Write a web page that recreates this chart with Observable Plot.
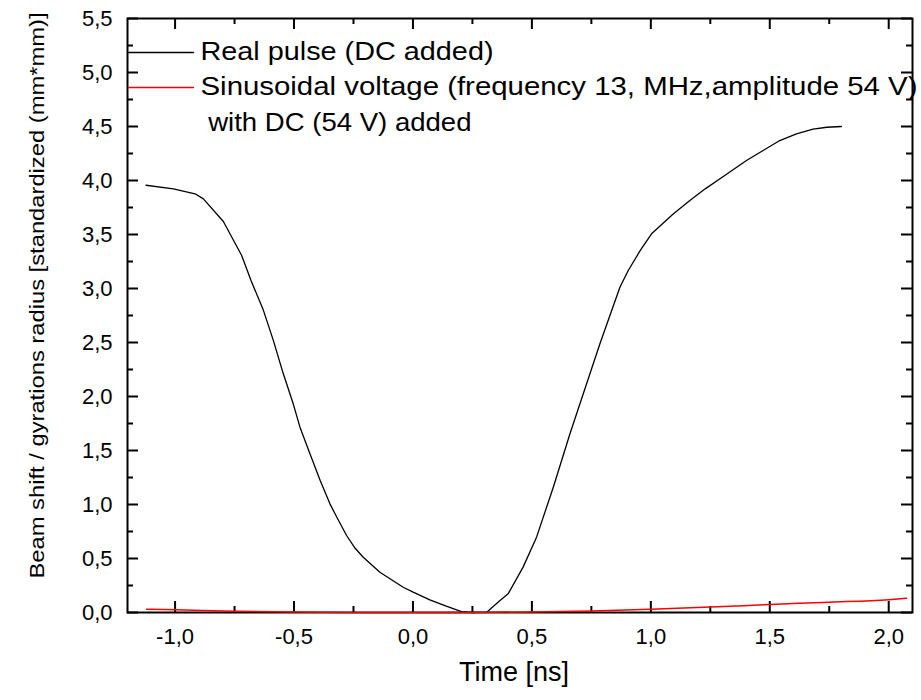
<!DOCTYPE html>
<html>
<head>
<meta charset="utf-8">
<script src="https://cdn.jsdelivr.net/npm/d3@7"></script>
<script src="https://cdn.jsdelivr.net/npm/@observablehq/plot@0.6"></script>
<style>
  html, body { margin: 0; padding: 0; background: #fff; }
</style>
</head>
<body>
<div id="chart"></div>
<script>
// ---- data ----
const pulseTime = [-1.122, -1.007, -0.916, -0.881, -0.797, -0.72, -0.68, -0.629, -0.587, -0.545, -0.503, -0.475, -0.433, -0.39, -0.349, -0.32, -0.279, -0.245, -0.209, -0.139, -0.041, 0.001, 0.071, 0.14, 0.204, 0.25, 0.31, 0.366, 0.40, 0.463, 0.52, 0.59, 0.66, 0.744, 0.786, 0.87, 0.905, 0.955, 1.003, 1.094, 1.164, 1.23, 1.30, 1.402, 1.472, 1.542, 1.612, 1.682, 1.74, 1.801];
const pulseValue = [3.956, 3.923, 3.877, 3.83, 3.62, 3.306, 3.07, 2.80, 2.52, 2.21, 1.93, 1.716, 1.47, 1.222, 1.006, 0.882, 0.713, 0.60, 0.512, 0.373, 0.234, 0.188, 0.117, 0.06, 0.009, 0.0, 0.003, 0.111, 0.173, 0.42, 0.70, 1.16, 1.655, 2.21, 2.488, 3.012, 3.167, 3.35, 3.506, 3.69, 3.815, 3.925, 4.03, 4.185, 4.278, 4.37, 4.432, 4.475, 4.493, 4.50];

const sineTime = [-1.12, -1.0, -0.75, -0.5, -0.25, 0, 0.25, 0.5, 0.75, 1.0, 1.25, 1.5, 1.75, 2.0, 2.075];
const sineValue = [0.03, 0.025, 0.012, 0.004, 0.001, 0.0, 0.001, 0.005, 0.015, 0.03, 0.05, 0.074, 0.095, 0.119, 0.132];

const xMajorTicks = [-1.0, -0.5, 0.0, 0.5, 1.0, 1.5, 2.0];
const xMinorTicks = [-0.75, -0.25, 0.25, 0.75, 1.25, 1.75];
const yMajorTicks = [0, 0.5, 1.0, 1.5, 2.0, 2.5, 3.0, 3.5, 4.0, 4.5, 5.0, 5.5];
const yMinorTicks = [0.25, 0.75, 1.25, 1.75, 2.25, 2.75, 3.25, 3.75, 4.25, 4.75, 5.25];

const seriesNames = ["Real pulse (DC added)", "Sinusoidal voltage (frequency 13, MHz,amplitude 54 V)", "\u00a0with DC (54 V) added"];
const seriesColors = ["#000000", "#ff0000"];
const xTitle = "Time [ns]";
const yTitle = "Beam shift / gyrations radius [standardized (mm*mm)]";

// ---- build tables ----
const pulse = pulseTime.map((t, i) => ({t, v: pulseValue[i]}));
const sine = sineTime.map((t, i) => ({t, v: sineValue[i]}));
const fmt = d => d.toFixed(1).replace(".", ",");

const W = 921, H = 700;
const mL = 127, mR = 9, mT = 18, mB = 88;
const innerW = W - mL - mR, innerH = H - mT - mB;
const majorLen = 11, minorLen = 6;

const lineShape = { draw(context, l) { context.moveTo(0, 0); context.lineTo(0, -l); } };

const chart = Plot.plot({
  width: W,
  height: H,
  marginLeft: mL,
  marginRight: mR,
  marginTop: mT,
  marginBottom: mB,
  style: { fontFamily: "'Liberation Sans', Arial, Helvetica, sans-serif", background: "#fff", color: "#000" },
  x: { domain: [-1.2, 2.1], axis: null },
  y: { domain: [0, 5.5], axis: null },
  marks: [
    // inward ticks on all four sides
    Plot.ruleX(xMajorTicks, { x: d => d, insetTop: innerH - majorLen, stroke: "#000", strokeWidth: 2 }),
    Plot.ruleX(xMinorTicks, { x: d => d, insetTop: innerH - minorLen, stroke: "#000", strokeWidth: 2 }),
    Plot.ruleX(xMajorTicks, { x: d => d, insetBottom: innerH - majorLen, stroke: "#000", strokeWidth: 2 }),
    Plot.ruleX(xMinorTicks, { x: d => d, insetBottom: innerH - minorLen, stroke: "#000", strokeWidth: 2 }),
    Plot.ruleY(yMajorTicks, { y: d => d, insetRight: innerW - majorLen, stroke: "#000", strokeWidth: 2 }),
    Plot.ruleY(yMinorTicks, { y: d => d, insetRight: innerW - minorLen, stroke: "#000", strokeWidth: 2 }),
    Plot.ruleY(yMajorTicks, { y: d => d, insetLeft: innerW - majorLen, stroke: "#000", strokeWidth: 2 }),
    Plot.ruleY(yMinorTicks, { y: d => d, insetLeft: innerW - minorLen, stroke: "#000", strokeWidth: 2 }),
    Plot.frame({ stroke: "#000", strokeWidth: 2 }),
    // tick labels
    Plot.axisX(xMajorTicks, { anchor: "bottom", label: null, tickSize: 0, tickPadding: 16, fontSize: 22, tickFormat: fmt }),
    Plot.axisY(yMajorTicks, { anchor: "left", label: null, tickSize: 0, tickPadding: 15, fontSize: 22, tickFormat: fmt }),
    // axis titles
    Plot.text([xTitle], { text: d => d, frameAnchor: "bottom", dx: -6, dy: 60, fontSize: 27, textAnchor: "middle", lineAnchor: "middle", fill: "#000" }),
    Plot.text([yTitle], { text: d => d, frameAnchor: "left", dx: -90, dy: -20, rotate: -90, fontSize: 21, textAnchor: "middle", lineAnchor: "middle", fill: "#000", className: "ytitle" }),
    // data
    Plot.line(pulse, { x: "t", y: "v", stroke: seriesColors[0], strokeWidth: 1.3 }),
    Plot.line(sine, { x: "t", y: "v", stroke: seriesColors[1], strokeWidth: 1.5, curve: "monotone-x" }),
    // legend
    Plot.vector([0], { frameAnchor: "top-left", dx: 1, dy: 34, length: 65, rotate: 90, anchor: "start", shape: lineShape, stroke: seriesColors[0], strokeWidth: 1.3 }),
    Plot.vector([0], { frameAnchor: "top-left", dx: 1, dy: 69, length: 65, rotate: 90, anchor: "start", shape: lineShape, stroke: seriesColors[1], strokeWidth: 1.3 }),
    Plot.text([seriesNames[0]], { text: d => d, frameAnchor: "top-left", dx: 73, dy: 33, fontSize: 25, textAnchor: "start", lineAnchor: "middle", fill: "#000", className: "leg0" }),
    Plot.text([seriesNames[1]], { text: d => d, frameAnchor: "top-left", dx: 73, dy: 68.5, fontSize: 25, textAnchor: "start", lineAnchor: "middle", fill: "#000", className: "leg1" }),
    Plot.text([seriesNames[2]], { text: d => d, frameAnchor: "top-left", dx: 73, dy: 104, fontSize: 25, textAnchor: "start", lineAnchor: "middle", fill: "#000", className: "leg2" })
  ]
});

document.getElementById("chart").appendChild(chart);

// stretch texts horizontally to match the reference's wide glyphs
const stretch = (cls, len) => {
  chart.querySelectorAll(`.${cls} text`).forEach(t => {
    t.setAttribute("textLength", len);
    t.setAttribute("lengthAdjust", "spacingAndGlyphs");
  });
};
stretch("leg0", 293);
stretch("leg1", 717);
stretch("leg2", 271);
stretch("ytitle", 566);
</script>
</body>
</html>
